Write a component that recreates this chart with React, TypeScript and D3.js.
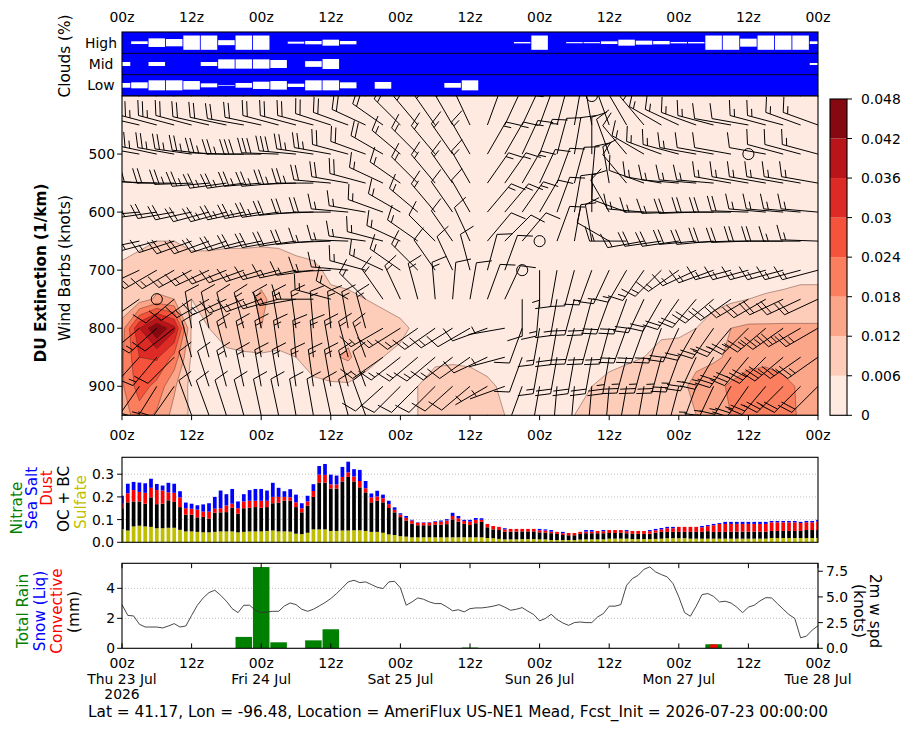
import React, { useEffect, useRef } from 'react';
import * as d3 from 'd3';

// forecast hours after init (00z Thu 23 Jul 2026)
const hours = d3.range(0, 121);
const hours3 = d3.range(0, 121, 3);
const levels = [400, 450, 500, 550, 600, 650, 700, 750, 800, 850, 900, 950];
const pressTicks = [500, 600, 700, 800, 900];
const dayNames = ['Thu 23 Jul', 'Fri 24 Jul', 'Sat 25 Jul', 'Sun 26 Jul', 'Mon 27 Jul', 'Tue 28 Jul'];

// cloud cover (%) every 3 h
const cloudHigh = [0, 19, 60, 51, 100, 100, 35, 100, 100, 0, 14, 23, 42, 23, 0, 0, 0, 0, 0, 0, 0, 0, 0, 10, 100, 0, 8, 8, 19, 42, 28, 23, 10, 10, 100, 100, 56, 100, 100, 100, 19];
const cloudMid = [28, 0, 28, 0, 0, 28, 65, 65, 65, 56, 0, 40, 70, 0, 0, 0, 0, 0, 0, 0, 0, 0, 0, 0, 0, 0, 0, 0, 0, 0, 0, 0, 0, 0, 0, 0, 0, 0, 0, 0, 14];
const cloudLow = [33, 42, 70, 70, 60, 28, 5, 33, 51, 60, 23, 70, 70, 42, 0, 47, 0, 0, 0, 33, 70, 0, 0, 0, 0, 0, 0, 0, 0, 0, 0, 0, 0, 0, 0, 0, 0, 0, 0, 0, 0];

// dust extinction (1/km), one row per pressure level, every 3 h
const duExt = [
  [0.002, 0.002, 0.002, 0.002, 0.002, 0.002, 0.002, 0.002, 0.002, 0.002, 0.002, 0.002, 0.002, 0.002, 0.002, 0.002, 0.002, 0.002, 0.002, 0.002, 0.002, 0.002, 0.002, 0.002, 0.002, 0.002, 0.002, 0.002, 0.002, 0.002, 0.002, 0.002, 0.002, 0.002, 0.002, 0.002, 0.002, 0.002, 0.002, 0.002, 0.002],
  [0.002, 0.002, 0.002, 0.002, 0.002, 0.002, 0.002, 0.002, 0.002, 0.002, 0.002, 0.002, 0.002, 0.002, 0.002, 0.002, 0.002, 0.002, 0.002, 0.002, 0.002, 0.002, 0.002, 0.002, 0.002, 0.002, 0.002, 0.002, 0.002, 0.002, 0.002, 0.002, 0.002, 0.002, 0.002, 0.002, 0.002, 0.002, 0.002, 0.002, 0.002],
  [0.003, 0.003, 0.003, 0.003, 0.003, 0.003, 0.003, 0.003, 0.003, 0.003, 0.003, 0.003, 0.003, 0.003, 0.003, 0.003, 0.003, 0.003, 0.003, 0.003, 0.003, 0.003, 0.003, 0.003, 0.003, 0.003, 0.003, 0.003, 0.003, 0.003, 0.003, 0.003, 0.003, 0.003, 0.003, 0.003, 0.003, 0.003, 0.003, 0.003, 0.003],
  [0.003, 0.003, 0.003, 0.003, 0.003, 0.003, 0.003, 0.003, 0.003, 0.003, 0.003, 0.003, 0.003, 0.003, 0.003, 0.003, 0.003, 0.003, 0.003, 0.003, 0.003, 0.003, 0.003, 0.003, 0.003, 0.003, 0.003, 0.003, 0.003, 0.003, 0.003, 0.003, 0.003, 0.003, 0.003, 0.003, 0.003, 0.003, 0.003, 0.003, 0.003],
  [0.004, 0.004, 0.004, 0.004, 0.004, 0.004, 0.004, 0.004, 0.004, 0.004, 0.004, 0.003, 0.003, 0.003, 0.003, 0.003, 0.003, 0.003, 0.003, 0.003, 0.003, 0.003, 0.003, 0.003, 0.003, 0.003, 0.003, 0.003, 0.003, 0.003, 0.003, 0.003, 0.003, 0.003, 0.003, 0.003, 0.003, 0.003, 0.003, 0.003, 0.003],
  [0.004, 0.005, 0.006, 0.006, 0.005, 0.005, 0.005, 0.005, 0.005, 0.005, 0.004, 0.004, 0.004, 0.004, 0.004, 0.004, 0.003, 0.003, 0.003, 0.003, 0.003, 0.003, 0.003, 0.003, 0.003, 0.003, 0.003, 0.003, 0.003, 0.003, 0.003, 0.003, 0.003, 0.003, 0.003, 0.003, 0.004, 0.004, 0.004, 0.004, 0.004],
  [0.007, 0.008, 0.008, 0.009, 0.008, 0.008, 0.009, 0.009, 0.010, 0.009, 0.008, 0.007, 0.005, 0.004, 0.004, 0.004, 0.004, 0.003, 0.003, 0.003, 0.003, 0.003, 0.003, 0.003, 0.003, 0.003, 0.003, 0.003, 0.003, 0.003, 0.003, 0.003, 0.003, 0.004, 0.004, 0.004, 0.004, 0.004, 0.004, 0.005, 0.005],
  [0.006, 0.009, 0.013, 0.012, 0.006, 0.007, 0.008, 0.010, 0.013, 0.010, 0.009, 0.008, 0.007, 0.007, 0.006, 0.005, 0.004, 0.004, 0.004, 0.004, 0.004, 0.003, 0.003, 0.003, 0.003, 0.003, 0.003, 0.003, 0.004, 0.004, 0.004, 0.004, 0.004, 0.004, 0.004, 0.005, 0.006, 0.0065, 0.007, 0.007, 0.007],
  [0.015, 0.036, 0.048, 0.038, 0.005, 0.006, 0.008, 0.010, 0.012, 0.009, 0.008, 0.008, 0.009, 0.010, 0.009, 0.008, 0.007, 0.005, 0.004, 0.004, 0.004, 0.004, 0.004, 0.004, 0.004, 0.004, 0.004, 0.004, 0.004, 0.004, 0.004, 0.004, 0.004, 0.006, 0.009, 0.012, 0.013, 0.013, 0.013, 0.013, 0.013],
  [0.017, 0.030, 0.031, 0.022, 0.005, 0.004, 0.005, 0.005, 0.005, 0.005, 0.006, 0.008, 0.011, 0.013, 0.008, 0.006, 0.005, 0.004, 0.005, 0.005, 0.005, 0.004, 0.004, 0.004, 0.004, 0.004, 0.004, 0.004, 0.004, 0.005, 0.006, 0.009, 0.010, 0.011, 0.011, 0.013, 0.015, 0.016, 0.015, 0.014, 0.014],
  [0.017, 0.027, 0.022, 0.013, 0.004, 0.004, 0.004, 0.004, 0.004, 0.004, 0.004, 0.005, 0.005, 0.005, 0.004, 0.004, 0.005, 0.006, 0.008, 0.009, 0.008, 0.007, 0.005, 0.004, 0.004, 0.004, 0.005, 0.006, 0.008, 0.009, 0.009, 0.010, 0.011, 0.013, 0.016, 0.019, 0.022, 0.022, 0.020, 0.017, 0.015],
  [0.015, 0.021, 0.017, 0.010, 0.005, 0.004, 0.004, 0.004, 0.004, 0.004, 0.004, 0.004, 0.004, 0.004, 0.004, 0.004, 0.005, 0.006, 0.008, 0.009, 0.009, 0.008, 0.006, 0.004, 0.004, 0.005, 0.006, 0.008, 0.009, 0.010, 0.010, 0.011, 0.011, 0.012, 0.015, 0.018, 0.021, 0.022, 0.021, 0.017, 0.014],
];

// wind direction (deg, blowing from) and speed (knots) per level, every 3 h
const windDir = [
  [285, 285, 288, 290, 290, 288, 285, 285, 290, 292, 295, 295, 298, 300, 305, 310, 315, 320, 325, 330, 335, 345, 355, 5, 10, 15, 20, 10, 0, 350, 340, 325, 320, 315, 310, 305, 300, 300, 295, 295, 290],
  [282, 283, 285, 285, 285, 283, 282, 280, 282, 285, 285, 285, 288, 290, 295, 305, 315, 320, 325, 330, 335, 20, 25, 25, 20, 15, 10, 350, 340, 330, 320, 300, 295, 290, 285, 280, 280, 285, 285, 290, 290],
  [280, 280, 282, 280, 278, 276, 272, 270, 270, 272, 275, 278, 280, 285, 290, 300, 310, 315, 320, 325, 330, 30, 30, 25, 20, 15, 10, 0, 340, 320, 300, 290, 285, 280, 280, 280, 0, 280, 285, 285, 285],
  [275, 275, 272, 270, 268, 265, 262, 262, 265, 265, 268, 270, 275, 280, 285, 295, 305, 315, 320, 325, 330, 35, 35, 30, 25, 20, 15, 5, 350, 320, 290, 280, 275, 275, 275, 280, 280, 280, 280, 280, 280],
  [268, 265, 262, 260, 258, 255, 255, 258, 260, 262, 265, 268, 270, 275, 280, 290, 300, 310, 320, 325, 330, 40, 40, 35, 30, 20, 10, 0, 330, 290, 275, 270, 268, 268, 270, 270, 272, 275, 275, 275, 275],
  [260, 258, 255, 252, 250, 250, 252, 255, 258, 260, 262, 265, 268, 272, 278, 285, 295, 305, 315, 325, 335, 40, 45, 40, 0, 20, 10, 350, 300, 270, 260, 262, 262, 265, 265, 268, 268, 270, 270, 270, 272],
  [250, 245, 240, 240, 242, 245, 248, 250, 252, 255, 258, 262, 268, 275, 285, 295, 305, 315, 325, 335, 345, 15, 20, 0, 180, 190, 195, 200, 205, 210, 215, 225, 235, 245, 250, 255, 255, 255, 255, 255, 255],
  [240, 235, 0, 230, 235, 240, 245, 248, 250, 255, 260, 270, 285, 300, 315, 325, 335, 345, 355, 5, 10, 20, 25, 180, 185, 190, 195, 195, 200, 200, 205, 210, 215, 220, 230, 235, 240, 240, 245, 245, 245],
  [235, 230, 228, 232, 350, 348, 345, 345, 348, 350, 352, 355, 355, 350, 345, 240, 238, 235, 235, 238, 240, 250, 260, 200, 190, 190, 195, 195, 195, 200, 200, 200, 205, 210, 215, 220, 225, 230, 235, 240, 240],
  [225, 222, 220, 225, 345, 345, 345, 348, 350, 352, 355, 355, 350, 345, 340, 235, 232, 230, 230, 232, 235, 245, 255, 200, 190, 190, 190, 190, 190, 195, 195, 195, 200, 205, 210, 215, 220, 225, 230, 235, 235],
  [215, 215, 212, 215, 340, 342, 345, 348, 350, 350, 352, 352, 350, 345, 340, 228, 225, 225, 225, 228, 230, 240, 250, 200, 190, 185, 185, 185, 185, 190, 190, 190, 195, 200, 205, 210, 215, 220, 225, 225, 225],
  [205, 205, 205, 210, 340, 340, 342, 345, 348, 348, 350, 350, 348, 345, 340, 225, 222, 220, 220, 222, 225, 235, 245, 195, 185, 180, 180, 180, 180, 185, 185, 185, 190, 195, 200, 205, 210, 215, 220, 220, 220],
];
const windSpd = [
  [30, 30, 30, 35, 35, 35, 30, 30, 30, 30, 30, 30, 25, 25, 25, 25, 25, 20, 20, 20, 20, 15, 15, 15, 15, 15, 10, 0, 10, 10, 10, 10, 10, 15, 15, 15, 15, 20, 20, 20, 20],
  [25, 25, 25, 25, 20, 20, 20, 20, 20, 20, 20, 20, 20, 20, 20, 20, 20, 20, 15, 15, 15, 10, 10, 15, 15, 15, 10, 10, 10, 10, 15, 15, 15, 15, 15, 10, 10, 15, 15, 15, 15],
  [20, 20, 25, 25, 25, 25, 25, 25, 30, 30, 30, 25, 25, 20, 20, 20, 15, 15, 15, 15, 15, 15, 15, 15, 15, 10, 10, 10, 10, 10, 15, 15, 15, 15, 10, 10, 0, 10, 10, 10, 15],
  [20, 20, 20, 20, 25, 25, 25, 25, 25, 25, 25, 25, 20, 20, 20, 15, 15, 15, 15, 15, 15, 15, 15, 15, 10, 10, 10, 10, 10, 10, 10, 15, 15, 15, 15, 15, 15, 15, 15, 15, 15],
  [15, 15, 20, 20, 20, 20, 25, 25, 25, 25, 20, 20, 20, 15, 15, 15, 15, 15, 15, 10, 10, 15, 15, 15, 10, 10, 10, 10, 10, 10, 15, 15, 15, 20, 20, 20, 20, 15, 15, 15, 15],
  [15, 15, 15, 15, 20, 20, 20, 20, 20, 20, 20, 20, 15, 15, 15, 15, 15, 15, 10, 10, 10, 10, 10, 10, 0, 10, 10, 10, 10, 15, 15, 20, 20, 20, 20, 20, 20, 20, 20, 15, 15],
  [10, 10, 15, 15, 15, 15, 15, 15, 15, 15, 15, 15, 15, 15, 15, 15, 15, 15, 10, 10, 10, 10, 10, 0, 5, 10, 10, 15, 15, 15, 15, 15, 15, 15, 15, 15, 15, 15, 15, 15, 15],
  [10, 10, 0, 10, 10, 15, 15, 15, 15, 15, 15, 15, 15, 15, 15, 15, 15, 15, 15, 10, 10, 10, 10, 10, 15, 15, 20, 20, 20, 20, 20, 20, 20, 20, 20, 20, 20, 20, 20, 20, 20],
  [15, 15, 15, 10, 10, 10, 10, 15, 15, 15, 15, 15, 15, 15, 15, 15, 15, 15, 15, 15, 10, 10, 5, 10, 15, 20, 20, 20, 20, 20, 20, 20, 20, 20, 25, 25, 25, 25, 25, 25, 25],
  [15, 15, 15, 10, 10, 10, 15, 15, 15, 15, 15, 15, 15, 15, 15, 15, 15, 15, 15, 15, 10, 10, 5, 10, 15, 20, 20, 20, 25, 25, 25, 25, 25, 25, 25, 30, 30, 30, 30, 25, 25],
  [10, 15, 15, 10, 10, 10, 15, 15, 15, 15, 15, 15, 15, 15, 10, 10, 10, 10, 10, 10, 10, 5, 5, 10, 15, 15, 20, 20, 20, 20, 20, 20, 20, 25, 25, 25, 25, 25, 25, 20, 20],
  [10, 10, 10, 10, 10, 10, 10, 10, 10, 10, 10, 10, 10, 10, 10, 10, 10, 10, 10, 10, 10, 5, 5, 10, 10, 15, 15, 15, 15, 15, 15, 15, 15, 20, 20, 20, 20, 20, 20, 15, 15],
];

// aerosol optical depth components, hourly
const sulfate = [
  0.058, 0.052, 0.070, 0.073, 0.070, 0.068, 0.062, 0.062, 0.064, 0.064,
  0.055, 0.048, 0.048, 0.046, 0.044, 0.044, 0.046, 0.048, 0.048, 0.048,
  0.044, 0.046, 0.048, 0.048, 0.048, 0.050, 0.052, 0.048, 0.048, 0.047,
  0.038, 0.036, 0.042, 0.057, 0.057, 0.057, 0.050, 0.050, 0.052, 0.052,
  0.053, 0.053, 0.050, 0.046, 0.046, 0.042, 0.035, 0.032, 0.027, 0.025,
  0.022, 0.022, 0.022, 0.022, 0.022, 0.022, 0.022, 0.022, 0.022, 0.022,
  0.022, 0.022, 0.022, 0.019, 0.018, 0.015, 0.013, 0.013, 0.013, 0.014,
  0.014, 0.014, 0.013, 0.013, 0.010, 0.010, 0.010, 0.010, 0.010, 0.012,
  0.013, 0.013, 0.013, 0.013, 0.016, 0.016, 0.016, 0.016, 0.014, 0.014,
  0.014, 0.014, 0.015, 0.016, 0.018, 0.018, 0.018, 0.018, 0.016, 0.016,
  0.016, 0.016, 0.016, 0.016, 0.016, 0.016, 0.016, 0.016, 0.016, 0.016,
  0.016, 0.016, 0.019, 0.019, 0.019, 0.019, 0.019, 0.019, 0.019, 0.019,
  0.019,
];
const ocbc = [
  0.092, 0.124, 0.110, 0.107, 0.100, 0.130, 0.106, 0.108, 0.121, 0.114,
  0.100, 0.074, 0.074, 0.064, 0.068, 0.061, 0.084, 0.084, 0.085, 0.104,
  0.082, 0.104, 0.104, 0.107, 0.104, 0.105, 0.120, 0.127, 0.135, 0.136,
  0.117, 0.096, 0.120, 0.143, 0.206, 0.206, 0.187, 0.187, 0.216, 0.236,
  0.215, 0.189, 0.170, 0.130, 0.137, 0.134, 0.116, 0.100, 0.084, 0.071,
  0.060, 0.053, 0.053, 0.053, 0.056, 0.056, 0.058, 0.079, 0.069, 0.059,
  0.054, 0.062, 0.068, 0.047, 0.039, 0.039, 0.034, 0.034, 0.034, 0.034,
  0.034, 0.034, 0.031, 0.030, 0.030, 0.027, 0.022, 0.021, 0.021, 0.025,
  0.027, 0.027, 0.027, 0.027, 0.025, 0.025, 0.026, 0.024, 0.023, 0.023,
  0.023, 0.024, 0.028, 0.030, 0.028, 0.028, 0.028, 0.028, 0.030, 0.030,
  0.030, 0.033, 0.030, 0.030, 0.030, 0.031, 0.031, 0.031, 0.031, 0.031,
  0.031, 0.031, 0.031, 0.031, 0.031, 0.031, 0.031, 0.031, 0.035, 0.035,
  0.035,
];
const dust = [
  0.020, 0.040, 0.050, 0.042, 0.048, 0.042, 0.062, 0.058, 0.035, 0.040,
  0.043, 0.028, 0.026, 0.034, 0.023, 0.030, 0.018, 0.018, 0.029, 0.018,
  0.024, 0.030, 0.031, 0.028, 0.031, 0.028, 0.028, 0.025, 0.017, 0.015,
  0.021, 0.018, 0.018, 0.026, 0.035, 0.034, 0.018, 0.018, 0.020, 0.020,
  0.022, 0.028, 0.018, 0.022, 0.019, 0.018, 0.017, 0.011, 0.011, 0.012,
  0.014, 0.011, 0.011, 0.012, 0.012, 0.013, 0.016, 0.015, 0.015, 0.013,
  0.015, 0.015, 0.009, 0.015, 0.015, 0.014, 0.010, 0.012, 0.012, 0.011,
  0.011, 0.011, 0.009, 0.009, 0.007, 0.009, 0.008, 0.010, 0.010, 0.009,
  0.007, 0.007, 0.010, 0.009, 0.013, 0.013, 0.012, 0.009, 0.013, 0.013,
  0.013, 0.011, 0.010, 0.011, 0.016, 0.016, 0.022, 0.022, 0.022, 0.022,
  0.020, 0.022, 0.029, 0.035, 0.035, 0.034, 0.034, 0.034, 0.034, 0.034,
  0.034, 0.034, 0.038, 0.038, 0.038, 0.038, 0.038, 0.035, 0.034, 0.034,
  0.038,
];
const seaSalt = [
  0.035, 0.042, 0.036, 0.041, 0.042, 0.040, 0.027, 0.022, 0.042, 0.040,
  0.027, 0.025, 0.022, 0.019, 0.032, 0.037, 0.052, 0.078, 0.050, 0.065,
  0.030, 0.032, 0.047, 0.052, 0.052, 0.045, 0.062, 0.040, 0.025, 0.036,
  0.034, 0.022, 0.025, 0.030, 0.038, 0.048, 0.043, 0.039, 0.044, 0.047,
  0.032, 0.049, 0.032, 0.017, 0.025, 0.016, 0.015, 0.011, 0.006, 0.008,
  0.003, 0.002, 0.002, 0.002, 0.003, 0.005, 0.006, 0.014, 0.010, 0.005,
  0.008, 0.008, 0.007, 0, 0, 0, 0.005, 0, 0, 0,
  0, 0, 0.006, 0.005, 0.007, 0, 0.006, 0, 0, 0,
  0.007, 0.007, 0, 0.005, 0, 0, 0, 0.005, 0, 0,
  0, 0.005, 0.006, 0.006, 0.006, 0.006, 0, 0, 0, 0,
  0.006, 0.005, 0.006, 0.004, 0.009, 0.009, 0.009, 0.009, 0.009, 0.009,
  0.009, 0.009, 0.006, 0.006, 0.006, 0.006, 0.006, 0.005, 0.006, 0.006,
  0.007,
];
const nitrate = [
  0, 0, 0, 0, 0, 0, 0, 0, 0, 0, 0, 0, 0, 0, 0, 0, 0, 0, 0, 0,
  0, 0, 0, 0, 0, 0, 0, 0, 0, 0, 0, 0, 0, 0, 0, 0, 0, 0, 0, 0,
  0, 0, 0, 0, 0, 0, 0, 0, 0, 0, 0, 0, 0, 0, 0, 0, 0, 0, 0, 0,
  0, 0, 0, 0, 0, 0, 0, 0, 0, 0, 0, 0, 0, 0, 0, 0, 0, 0, 0, 0,
  0, 0, 0, 0, 0, 0, 0, 0, 0, 0, 0, 0, 0, 0, 0, 0, 0, 0, 0, 0,
  0, 0, 0, 0, 0, 0, 0, 0, 0, 0, 0, 0, 0, 0, 0, 0, 0, 0, 0, 0,
  0,
];

// 3-hourly precipitation (mm)
const rainTotal = [0, 0, 0, 0, 0, 0, 0, 0.76, 5.42, 0.40, 0, 0.53, 1.27, 0, 0, 0, 0, 0, 0, 0, 0.05, 0, 0, 0, 0, 0, 0, 0, 0, 0, 0, 0, 0, 0, 0.27, 0, 0, 0, 0, 0, 0];
const snowLiq = [0, 0, 0, 0, 0, 0, 0, 0, 0, 0, 0, 0, 0, 0, 0, 0, 0, 0, 0, 0, 0, 0, 0, 0, 0, 0, 0, 0, 0, 0, 0, 0, 0, 0, 0, 0, 0, 0, 0, 0, 0];
const convective = [0, 0, 0, 0, 0, 0, 0, 0, 0, 0, 0, 0, 0, 0, 0, 0, 0, 0, 0, 0, 0, 0, 0, 0, 0, 0, 0, 0, 0, 0, 0, 0, 0, 0, 0.26, 0, 0, 0, 0, 0, 0];

// 2 m wind speed (knots), hourly
const wind2m = [
  4.25, 3.2, 3.15, 2.34, 2.07, 2.07, 2.07, 1.98, 2.17, 2.4,
  2.07, 2.17, 3.2, 4.19, 4.9, 5.42, 5.65, 5.16, 4.58, 3.86,
  3.47, 4.19, 4.19, 3.7, 3.47, 3.54, 3.6, 3.6, 4.12, 4.41,
  4.25, 3.8, 3.6, 3.8, 4.12, 4.45, 4.84, 5.33, 5.88, 6.46,
  6.62, 6.39, 6.46, 6.2, 5.94, 5.81, 6.46, 6.52, 5.88, 4.19,
  4.51, 4.9, 4.77, 4.51, 4.35, 4.35, 4.03, 3.65, 3.75, 3.54,
  3.86, 3.93, 3.93, 4.0, 4.1, 4.25, 4.0, 3.7, 3.8, 3.96,
  3.6, 3.28, 2.67, 2.9, 3.31, 2.8, 2.47, 2.23, 2.5, 2.56,
  2.5, 2.5, 3.05, 3.38, 4.1, 4.1, 4.25, 6.13, 6.78, 7.1,
  7.69, 7.92, 7.43, 7.17, 6.95, 6.3, 5.0, 3.47, 3.12, 4.1,
  5.22, 5.33, 5.05, 4.51, 4.58, 4.41, 4.0, 3.47, 4.0, 4.19,
  4.61, 4.93, 4.9, 4.35, 3.8, 3.28, 2.9, 1.02, 1.18, 1.77,
  2.2,
];

const extLevels = [0, 0.006, 0.012, 0.018, 0.024, 0.03, 0.036, 0.042, 0.048];
const extLabels = ['0', '0.006', '0.012', '0.018', '0.024', '0.03', '0.036', '0.042', '0.048'];
const extColors = ['#feeae1', '#fdcdb9', '#fca689', '#fb7e5e', '#f5533b', '#dd2a25', '#b81419', '#860811'];

const FONT = "'DejaVu Sans', sans-serif";
const FS = 13.9;      // tick labels
const FS_LAB = 15.3;  // axis labels and title

// matplotlib-style wind barb, tip anchored at (tx, ty)
const BARB_L = 37;
const barbShape = (tx: number, ty: number, dir: number, spd: number) => {
  const mag = 5 * Math.round(spd / 5);
  const nFlag = Math.floor(mag / 50);
  const nBarb = Math.floor((mag % 50) / 10);
  const half = mag % 10 >= 5;
  if (!nFlag && !nBarb && !half) return null;
  const th = (dir * Math.PI) / 180;
  const sx = Math.sin(th), sy = -Math.cos(th);
  const fx = Math.cos(th), fy = Math.sin(th);
  const h = 0.4 * BARB_L, w = 0.25 * BARB_L, sp = 0.125 * BARB_L;
  const P = (a: number, b: number) => `${(tx + sx * a + fx * b).toFixed(1)},${(ty + sy * a + fy * b).toFixed(1)}`;
  let line = `M${P(0, 0)}L${P(BARB_L, 0)}`;
  let flags = '';
  let off = BARB_L;
  for (let i = 0; i < nFlag; i++) {
    if (off !== BARB_L) off += sp / 2;
    flags += `M${P(off, 0)}L${P(off - w / 2, h)}L${P(off - w, 0)}Z`;
    off -= w + sp;
  }
  for (let i = 0; i < nBarb; i++) {
    line += `M${P(off, 0)}L${P(off + w / 2, h)}`;
    off -= sp;
  }
  if (half) {
    if (off === BARB_L) off -= 1.5 * sp;
    line += `M${P(off, 0)}L${P(off + w / 4, h / 2)}`;
  }
  return { line, flags };
};

const App = () => {
  const ref = useRef<SVGSVGElement>(null);

  useEffect(() => {
    const svg = d3.select(ref.current);
    svg.selectAll('*').remove();

    const x = d3.scaleLinear([0, 120], [122, 818]);
    const X0 = 122, X1 = 818;
    const yP = d3.scaleLinear([400, 950], [96, 415.3]);
    const yA = d3.scaleLinear([0, 0.3744], [542.3, 457.3]);
    const yL = d3.scaleLinear([0, 5.67], [648.3, 563.3]);
    const yR = d3.scaleLinear([0, 8.27], [648.3, 563.3]);
    const yC = d3.scaleLinear([0, 0.048], [415.3, 99]);

    const text = (g: any, tx: number, ty: number, s: string, anchor = 'middle', size = FS) =>
      g.append('text').attr('x', tx).attr('y', ty).attr('text-anchor', anchor)
        .attr('font-family', FONT).attr('font-size', size).attr('fill', '#000').text(s);
    const vtext = (g: any, tx: number, ty: number, s: string, rot: number, fill = '#000', weight = 'normal') =>
      g.append('text').attr('transform', `translate(${tx},${ty}) rotate(${rot})`)
        .attr('text-anchor', 'middle').attr('dominant-baseline', 'central')
        .attr('font-family', FONT).attr('font-size', FS_LAB).attr('font-weight', weight).attr('fill', fill).text(s);
    const frame = (y0: number, y1: number) =>
      svg.append('rect').attr('x', X0).attr('y', y0).attr('width', X1 - X0).attr('height', y1 - y0)
        .attr('fill', 'none').attr('stroke', '#000').attr('stroke-width', 1.1);

    const defs = svg.append('defs');
    const clip = (id: string, y0: number, y1: number) =>
      defs.append('clipPath').attr('id', id).append('rect')
        .attr('x', X0).attr('y', y0).attr('width', X1 - X0).attr('height', y1 - y0);
    clip('clip-cloud', 32, 96);
    clip('clip-main', 96, 415.3);
    clip('clip-aer', 457.3, 542.3);
    clip('clip-pcp', 563.3, 648.3);

    const tick12 = d3.range(0, 121, 12);
    const zLabel = (t: number) => (t % 24 === 0 ? '00z' : '12z');

    // ---- cloud panel
    const gc = svg.append('g').attr('clip-path', 'url(#clip-cloud)');
    gc.append('rect').attr('x', X0).attr('y', 32).attr('width', X1 - X0).attr('height', 64).attr('fill', '#0000ff');
    const rowH = 64 / 3;
    const hCloud = d3.scaleLinear([0, 100], [0, 14.3]);
    const cbw = x(2.85) - x(0);
    [cloudHigh, cloudMid, cloudLow].forEach((vals, i) => {
      const cy = 32 + rowH * (i + 0.5);
      gc.selectAll(null).data(hours3.filter((_, k) => vals[k] > 0)).join('rect')
        .attr('x', (t: number) => x(t) - cbw / 2)
        .attr('width', cbw)
        .attr('y', (t: number) => cy - hCloud(vals[t / 3]) / 2)
        .attr('height', (t: number) => hCloud(vals[t / 3]))
        .attr('fill', '#fff');
    });
    [1, 2].forEach(i =>
      gc.append('line').attr('x1', X0).attr('x2', X1).attr('y1', 32 + rowH * i).attr('y2', 32 + rowH * i)
        .attr('stroke', '#000022').attr('stroke-width', 1));
    frame(32, 96);
    ['High', 'Mid', 'Low'].forEach((s, i) => text(svg, 101, 32 + rowH * (i + 0.5) + 5, s));
    tick12.forEach(t => text(svg, x(t), 21.7, zLabel(t)));
    vtext(svg, 64.5, 56, 'Clouds (%)', -90);

    // ---- dust extinction contours + wind barbs
    const gm = svg.append('g').attr('clip-path', 'url(#clip-main)');
    gm.append('rect').attr('x', X0).attr('y', 96).attr('width', X1 - X0).attr('height', 320).attr('fill', extColors[0]);
    const nx = hours3.length, ny = levels.length;
    const bands = d3.contours().size([nx, ny]).thresholds(extLevels.slice(1, 8))(duExt.flat());
    const gx = (c: number) => x(3 * Math.max(0, Math.min(nx - 1, c - 0.5)));
    const gy = (c: number) => yP(400 + 50 * Math.max(0, Math.min(ny - 1, c - 0.5)));
    const bandPath = (mp: any) => mp.coordinates.map((poly: any) =>
      poly.map((ring: any) => 'M' + ring.map(([a, b]: number[]) => `${gx(a).toFixed(1)},${gy(b).toFixed(1)}`).join('L') + 'Z').join('')).join('');
    bands.forEach((b: any, i: number) =>
      gm.append('path').attr('d', bandPath(b)).attr('fill', extColors[i + 1]).attr('fill-rule', 'evenodd'));
    bands.forEach((b: any) =>
      gm.append('path').attr('d', bandPath(b)).attr('fill', 'none').attr('stroke', '#4a2018')
        .attr('stroke-opacity', 0.45).attr('stroke-width', 0.9));

    levels.forEach((p, j) => hours3.forEach((t, k) => {
      const shape = barbShape(x(t), yP(p), windDir[j][k], windSpd[j][k]);
      if (!shape) {
        gm.append('circle').attr('cx', x(t)).attr('cy', yP(p)).attr('r', 0.15 * BARB_L)
          .attr('fill', 'none').attr('stroke', '#000').attr('stroke-width', 1);
        return;
      }
      gm.append('path').attr('d', shape.line).attr('fill', 'none').attr('stroke', '#000').attr('stroke-width', 1);
      if (shape.flags) gm.append('path').attr('d', shape.flags).attr('fill', '#000');
    }));
    frame(96, 415.3);
    tick12.forEach(t => {
      svg.append('line').attr('x1', x(t)).attr('x2', x(t)).attr('y1', 415.3).attr('y2', 420.2).attr('stroke', '#000');
      text(svg, x(t), 440, zLabel(t));
    });
    pressTicks.forEach(p => {
      svg.append('line').attr('x1', X0 - 4.9).attr('x2', X0).attr('y1', yP(p)).attr('y2', yP(p)).attr('stroke', '#000');
      text(svg, 115, yP(p) + 5, String(p), 'end');
    });
    vtext(svg, 41, 273, 'DU Extinction (1/km)', -90, '#000', 'bold');
    vtext(svg, 64.5, 268, 'Wind Barbs (knots)', -90);

    // colorbar
    extColors.forEach((c, i) =>
      svg.append('rect').attr('x', 830).attr('width', 17).attr('y', yC(extLevels[i + 1]))
        .attr('height', yC(extLevels[i]) - yC(extLevels[i + 1])).attr('fill', c));
    svg.append('rect').attr('x', 830).attr('y', 99).attr('width', 17).attr('height', 415.3 - 99)
      .attr('fill', 'none').attr('stroke', '#000').attr('stroke-width', 1.1);
    extLevels.forEach((v, i) => {
      svg.append('line').attr('x1', 847).attr('x2', 852).attr('y1', yC(v)).attr('y2', yC(v)).attr('stroke', '#000');
      text(svg, 861, yC(v) + 5, extLabels[i], 'start');
    });

    // ---- aerosol stacked bars
    const aerRows = hours.map((t, i) => ({ t, sulfate: sulfate[i], ocbc: ocbc[i], dust: dust[i], seaSalt: seaSalt[i], nitrate: nitrate[i] }));
    const aerColors: Record<string, string> = { sulfate: '#bfbf00', ocbc: '#000000', dust: '#ff0000', seaSalt: '#0000ff', nitrate: '#008000' };
    const series = d3.stack().keys(['sulfate', 'ocbc', 'dust', 'seaSalt', 'nitrate'])(aerRows as any);
    const ga = svg.append('g').attr('clip-path', 'url(#clip-aer)');
    [0.1, 0.2, 0.3].forEach(v =>
      ga.append('line').attr('x1', X0).attr('x2', X1).attr('y1', yA(v)).attr('y2', yA(v))
        .attr('stroke', '#b0b0b0').attr('stroke-width', 0.8).attr('stroke-dasharray', '1,2'));
    const abw = x(0.64) - x(0);
    series.forEach((s: any) =>
      ga.selectAll(null).data(s).join('rect')
        .attr('x', (d: any) => x(d.data.t) - abw / 2).attr('width', abw)
        .attr('y', (d: any) => yA(d[1])).attr('height', (d: any) => Math.max(0, yA(d[0]) - yA(d[1])))
        .attr('fill', aerColors[s.key]));
    frame(457.3, 542.3);
    [0, 0.1, 0.2, 0.3].forEach(v => {
      svg.append('line').attr('x1', X0 - 4.9).attr('x2', X0).attr('y1', yA(v)).attr('y2', yA(v)).attr('stroke', '#000');
      text(svg, 114, yA(v) + 5, v.toFixed(1), 'end');
    });
    vtext(svg, 17, 508, 'Nitrate', -90, '#008000');
    vtext(svg, 31.5, 498, 'Sea Salt', -90, '#0000ff');
    vtext(svg, 47, 488, 'Dust', -90, '#ff0000');
    vtext(svg, 63.5, 499, 'OC + BC', -90, '#000');
    vtext(svg, 81, 502, 'Sulfate', -90, '#bfbf00');

    // ---- precipitation bars + 2 m wind
    const gp = svg.append('g').attr('clip-path', 'url(#clip-pcp)');
    [2, 4].forEach(v =>
      gp.append('line').attr('x1', X0).attr('x2', X1).attr('y1', yL(v)).attr('y2', yL(v))
        .attr('stroke', '#b0b0b0').attr('stroke-width', 0.8).attr('stroke-dasharray', '1,2'));
    const bars = (vals: number[], width: number, color: string) =>
      gp.selectAll(null).data(hours3.filter((_, k) => vals[k] > 0)).join('rect')
        .attr('x', (t: number) => x(t) - width / 2).attr('width', width)
        .attr('y', (t: number) => yL(vals[t / 3])).attr('height', (t: number) => yL(0) - yL(vals[t / 3]))
        .attr('fill', color);
    bars(rainTotal, x(2.85) - x(0), '#008000');
    bars(snowLiq, x(2) - x(0), '#0000ff');
    bars(convective, x(1.15) - x(0), '#ff0000');
    gp.append('path').datum(wind2m)
      .attr('d', d3.line<number>().x((_, i) => x(hours[i])).y(v => yR(v)))
      .attr('fill', 'none').attr('stroke', '#333').attr('stroke-width', 0.9);
    frame(563.3, 648.3);
    tick12.forEach(t => {
      svg.append('line').attr('x1', x(t)).attr('x2', x(t)).attr('y1', 563.3).attr('y2', 568.2).attr('stroke', '#000');
      svg.append('line').attr('x1', x(t)).attr('x2', x(t)).attr('y1', 648.3).attr('y2', 643.4).attr('stroke', '#000');
      text(svg, x(t), 668.3, zLabel(t));
    });
    dayNames.forEach((s, i) => text(svg, x(24 * i), 684, s));
    text(svg, x(0), 699, '2026');
    [0, 2, 4].forEach(v => {
      svg.append('line').attr('x1', X0 - 4.9).attr('x2', X0).attr('y1', yL(v)).attr('y2', yL(v)).attr('stroke', '#000');
      text(svg, 115, yL(v) + 5, String(v), 'end');
    });
    [0, 2.5, 5, 7.5].forEach(v => {
      svg.append('line').attr('x1', X1).attr('x2', X1 + 4.9).attr('y1', yR(v)).attr('y2', yR(v)).attr('stroke', '#000');
      text(svg, 826, yR(v) + 5, v.toFixed(1), 'start');
    });
    vtext(svg, 23, 611, 'Total Rain', -90, '#008000');
    vtext(svg, 40, 611, 'Snow (Liq)', -90, '#0000ff');
    vtext(svg, 57, 611, 'Convective', -90, '#ff0000');
    vtext(svg, 74, 612, '(mm)', -90, '#000');
    vtext(svg, 875, 611, '2m w spd', 90);
    vtext(svg, 859, 611, '(knots)', 90);

    text(svg, 458, 717, 'Lat = 41.17, Lon = -96.48, Location = AmeriFlux US-NE1 Mead, Fcst_Init = 2026-07-23 00:00:00', 'middle', FS_LAB);
  }, []);

  return (
    <svg ref={ref} width={909} height={730}
      style={{ position: 'absolute', left: 0, top: 0, background: '#fff' }} />
  );
};

export default App;
